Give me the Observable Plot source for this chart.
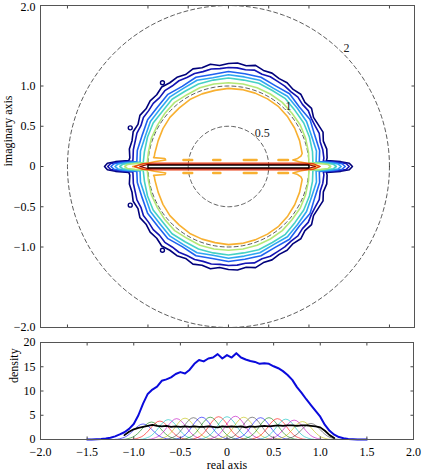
<!DOCTYPE html>
<html><head><meta charset="utf-8">
<script src="https://cdn.jsdelivr.net/npm/d3@7"></script>
<script src="https://cdn.jsdelivr.net/npm/@observablehq/plot@0.6"></script>
<style>
body{margin:0;background:#fff;}
#chart{width:422px;height:476px;position:relative;overflow:hidden;}
#chart svg{display:block;position:absolute;left:0;overflow:visible;}
#chart svg, #chart svg text{font-family:"Liberation Serif","Times New Roman",serif !important;}
</style></head><body><div id="chart"></div>
<script>
// ---------------- DATA ----------------
// top panel ticks
const planeTicks = [-2, -1, -0.5, 0, 0.5, 1, 2];
const planeTickLabels = ["−2.0", "−1.0", "−0.5", "0", "0.5", "1.0", "2.0"];
// reference dashed circles
const circleRadii = [0.5, 1, 2];
const circleLabels = ["0.5", "1", "2"];
const circleLabelX = [0.42, 0.745, 1.466];
const circleLabelY = [0.42, 0.745, 1.466];

// contour levels (low -> high): radius of each level at angles 0..180 deg (symmetric about real axis)
const levelColors = ["#00007a", "#1414b4", "#1f62f0", "#2ea6f2", "#46d2c4", "#b4e878"];
const navyRadii = [1.22,1.23,1.24,1.22,1.25,1.23,1.22,1.26,1.24,1.27,1.25,1.27,1.26,1.28,1.27,1.30,1.27,1.29,1.28,1.26,1.29,1.27,1.29,1.26,1.28,1.27,1.29,1.26,1.27,1.25,1.27,1.24,1.26,1.24,1.25,1.23,1.24];
const navy2Radii = [1.18,1.19,1.19,1.18,1.20,1.19,1.19,1.21,1.20,1.22,1.21,1.22,1.22,1.23,1.22,1.24,1.22,1.23,1.23,1.22,1.23,1.22,1.23,1.22,1.23,1.22,1.23,1.21,1.22,1.21,1.22,1.20,1.21,1.20,1.20,1.19,1.19];
const blueRadii = [1.13,1.15,1.14,1.17,1.15,1.18,1.16,1.18,1.17,1.18,1.16,1.18,1.15,1.17,1.15,1.16,1.14,1.15,1.14];
const skyRadii = [1.09,1.11,1.10,1.12,1.12,1.14,1.12,1.14,1.13,1.14,1.12,1.14,1.12,1.13,1.11,1.12,1.10,1.11,1.10];
const tealRadii = [1.05,1.06,1.07,1.08,1.08,1.10,1.09,1.10,1.09,1.10,1.09,1.09,1.08,1.09,1.07,1.08,1.07,1.06,1.06];
const greenRadii = [1.00,1.01,1.02,1.03,1.03,1.04,1.04,1.04,1.04,1.04,1.04,1.04,1.03,1.04,1.03,1.02,1.02,1.01,1.01];
const spikeTipRight = [1.54, 1.50, 1.45, 1.40, 1.34, 1.27];
const spikeTipLeft = [-1.54, -1.50, -1.46, -1.41, -1.35, -1.29];
const spikeHalfWidth = [0.075, 0.068, 0.062, 0.056, 0.05, 0.045];
const spikeProfileF = [0, 0.12, 0.45, 1];
const spikeProfileH = [0, 0.55, 0.8, 1];

// orange level
const orangeColor = "#f8b030";
const orangeRadii = [0.92,0.93,0.94,0.95,0.96,0.97,0.97,0.97,0.97,0.97,0.96,0.96,0.96,0.95,0.95,0.94,0.93,0.93,0.93];
const orangeRightX = [1.13, 1.00, 0.88, 0.80, 0.86, 0.90];
const orangeRightY = [0, 0.035, 0.058, 0.08, 0.10, 0.13];
const orangeLeftX = [-0.92, -0.93, -0.79, -0.78, -0.92, -1.05, -1.19];
const orangeLeftY = [0.13, 0.11, 0.10, 0.08, 0.058, 0.03, 0];
const orangeIslandX1 = [-0.56, -0.19, 0.19, 0.62];
const orangeIslandX2 = [-0.45, -0.10, 0.35, 0.74];
const orangeIslandY = [0.08, 0.08, 0.08, 0.08];

// real-axis bands (upper halves)
const bandColors = ["#e83a10", "#8c0000", "#000000"];
const redBandX = [1.14, 1.05, 0.95, -0.95, -1.06, -1.17];
const redBandY = [0, 0.035, 0.042, 0.042, 0.035, 0];
const darkRedBandX = [1.08, 0.98, -1.00, -1.10];
const darkRedBandY = [0, 0.026, 0.026, 0];
const blackBandX = [1.0, 1.0, -1.0, -1.0];
const blackBandY = [0, 0.018, 0.018, 0];

// isolated low-level islands
const islandX = [-0.82, -1.22, -1.22, -0.82];
const islandY = [1.04, 0.48, -0.48, -1.04];

// bottom panel
const densityTicksX = [-2, -1.5, -1, -0.5, 0, 0.5, 1, 1.5, 2];
const densityTickLabelsX = ["−2.0", "−1.5", "−1.0", "−0.5", "0", "0.5", "1.0", "1.5", "2.0"];
const densityTicksY = [0, 5, 10, 15, 20];
const realX = [-1.50,-1.45,-1.40,-1.35,-1.30,-1.25,-1.20,-1.15,-1.10,-1.05,-1.00,-0.95,-0.90,-0.85,-0.80,-0.75,-0.70,-0.65,-0.60,-0.55,-0.50,-0.45,-0.40,-0.35,-0.30,-0.25,-0.20,-0.15,-0.10,-0.05,0,0.05,0.10,0.15,0.20,0.25,0.30,0.35,0.40,0.45,0.50,0.55,0.60,0.65,0.70,0.75,0.80,0.85,0.90,0.95,1.00,1.05,1.10,1.15,1.20,1.25,1.30,1.35,1.40,1.45,1.50];
const totalDensity = [0,0,0.05,0.1,0.2,0.35,0.65,1.05,1.5,2.2,3.2,5.0,7.4,9.4,10.3,10.9,12.1,12.4,12.8,13.5,13.9,13.6,14.4,15.6,16.4,16.1,16.7,16.9,17.6,16.7,17.4,16.9,17.8,16.9,16.5,16.2,16.0,15.6,15.7,15.6,15.1,14.7,14.1,13.3,12.3,10.8,9.6,8.3,7.1,5.9,4.7,3.0,1.8,1.0,0.5,0.25,0.1,0.05,0,0,0];
const meanX = [-1.10,-1.05,-1.00,-0.95,-0.90,-0.85,-0.80,-0.75,-0.70,-0.65,-0.60,-0.55,-0.50,-0.45,-0.40,-0.35,-0.30,-0.25,-0.20,-0.15,-0.10,-0.05,0,0.05,0.10,0.15,0.20,0.25,0.30,0.35,0.40,0.45,0.50,0.55,0.60,0.65,0.70,0.75,0.80,0.85,0.90,0.95,1.00,1.05,1.10,1.15];
const meanDensity = [0.9,1.6,2.1,2.4,2.6,2.8,3.0,2.8,2.7,2.8,2.6,2.7,2.6,2.7,2.6,2.7,2.6,2.6,2.7,2.6,2.5,2.7,2.6,2.7,2.6,2.7,2.5,2.7,2.6,2.7,2.8,2.7,2.8,2.9,2.8,2.9,2.9,2.8,2.9,2.9,2.8,2.7,2.5,1.8,0.9,0.3];
const bumpCenters = [-0.90,-0.81,-0.72,-0.63,-0.54,-0.45,-0.36,-0.27,-0.18,-0.09,0,0.09,0.18,0.27,0.36,0.45,0.54,0.63,0.72,0.81,0.90];
const bumpPeaks = [3.2,3.6,3.8,4.1,4.3,4.4,4.5,4.6,4.6,4.7,4.7,4.8,4.6,4.6,4.5,4.5,4.3,4.2,4.0,3.7,3.3];
const bumpOffsets = [-0.3,-0.275,-0.25,-0.225,-0.2,-0.175,-0.15,-0.125,-0.1,-0.075,-0.05,-0.025,0,0.025,0.05,0.075,0.1,0.125,0.15,0.175,0.2,0.225,0.25,0.275,0.3];
const bumpShape = [0.01,0.02,0.05,0.09,0.14,0.22,0.33,0.46,0.61,0.76,0.88,0.97,1,0.97,0.88,0.76,0.61,0.46,0.33,0.22,0.14,0.09,0.05,0.02,0.01];
const bumpColors = ["#0000ff", "#008000", "#ff0000", "#00bfbf", "#bf00bf", "#bfbf00", "#404040"];

// ---------------- BUILD ----------------
const FONT = "Liberation Serif";
function ringHalf(radii, tipR, tipL, h) {
  const n = radii.length - 1, pts = [];
  const xbR = Math.sqrt(radii[0] ** 2 - h * h), xbL = -Math.sqrt(radii[n] ** 2 - h * h);
  for (let k = 0; k < spikeProfileF.length; k++) pts.push([tipR + (xbR - tipR) * spikeProfileF[k], h * spikeProfileH[k]]);
  for (let i = 1; i < n; i++) { const a = Math.PI * i / n; pts.push([radii[i] * Math.cos(a), radii[i] * Math.sin(a)]); }
  for (let k = spikeProfileF.length - 1; k >= 0; k--) pts.push([tipL + (xbL - tipL) * spikeProfileF[k], h * spikeProfileH[k]]);
  return pts;
}
function closeMirror(half) {
  const pts = half.slice();
  for (let i = half.length - 2; i >= 0; i--) pts.push([half[i][0], -half[i][1]]);
  return pts;
}
const contourRows = [];
function addContour(id, color, width, pts) {
  pts.forEach(([x, y]) => contourRows.push({id, color, width, x, y}));
}
[navyRadii, navy2Radii, blueRadii, skyRadii, tealRadii, greenRadii].forEach((radii, i) => {
  addContour("L" + i, levelColors[i], 1.6, closeMirror(ringHalf(radii, spikeTipRight[i], spikeTipLeft[i], spikeHalfWidth[i])));
});
{
  const half = orangeRightX.map((x, i) => [x, orangeRightY[i]]);
  const n = orangeRadii.length - 1;
  for (let i = 1; i < n; i++) { const a = Math.PI * i / n; half.push([orangeRadii[i] * Math.cos(a), orangeRadii[i] * Math.sin(a)]); }
  orangeLeftX.forEach((x, i) => half.push([x, orangeLeftY[i]]));
  addContour("orange", orangeColor, 1.6, closeMirror(half));
}
[[redBandX, redBandY], [darkRedBandX, darkRedBandY], [blackBandX, blackBandY]].forEach(([bx, by], i) => {
  addContour("band" + i, bandColors[i], 1.2, closeMirror(bx.map((x, j) => [x, by[j]])));
});
const islandRows = [];
orangeIslandX1.forEach((x1, i) => {
  islandRows.push({x1, x2: orangeIslandX2[i], y: orangeIslandY[i]});
  islandRows.push({x1, x2: orangeIslandX2[i], y: -orangeIslandY[i]});
});
const circleRows = [];
circleRadii.forEach(r => { for (let a = 0; a <= 360; a += 2) circleRows.push({r, x: r * Math.cos(a * Math.PI / 180), y: r * Math.sin(a * Math.PI / 180)}); });
const circleLabelRows = circleLabels.map((t, i) => ({t, x: circleLabelX[i], y: circleLabelY[i]}));

// inward tick symbols
const tickLen = 3;
const sym = (dx, dy) => ({draw(ctx) { ctx.moveTo(0, 0); ctx.lineTo(dx, dy); }});
function frameTicks(xt, yt) {
  const o = {fill: "none", stroke: "#444", strokeWidth: 1};
  return [
    Plot.dot(xt, {...o, x: d => d, frameAnchor: "bottom", symbol: sym(0, -tickLen)}),
    Plot.dot(xt, {...o, x: d => d, frameAnchor: "top", symbol: sym(0, tickLen)}),
    Plot.dot(yt, {...o, y: d => d, frameAnchor: "left", symbol: sym(tickLen, 0)}),
    Plot.dot(yt, {...o, y: d => d, frameAnchor: "right", symbol: sym(-tickLen, 0)})
  ];
}
const planeLabelFmt = d => planeTickLabels[planeTicks.indexOf(d)];
const planeTicksInner = planeTicks.filter(d => d !== 2);

const topPlot = Plot.plot({
  width: 422, height: 345,
  marginLeft: 40, marginRight: 8, marginTop: 5, marginBottom: 18,
  x: {domain: [-2.335, 2.311], axis: null},
  y: {domain: [-2, 2]},
  style: {fontFamily: FONT, fontSize: "12px", background: "white", color: "#000", overflow: "visible"},
  marks: [
    Plot.line(circleRows, {x: "x", y: "y", z: "r", stroke: "#333", strokeWidth: 0.8, strokeDasharray: "4,3"}),
    Plot.line(contourRows, {x: "x", y: "y", z: "id", stroke: "color", strokeWidth: "width", strokeLinejoin: "round"}),
    Plot.link(islandRows, {x1: "x1", x2: "x2", y1: "y", y2: "y", stroke: orangeColor, strokeWidth: 2.4, strokeLinecap: "round"}),
    Plot.dot(islandX.map((x, i) => ({x, y: islandY[i]})), {x: "x", y: "y", r: 2, stroke: levelColors[0], strokeWidth: 1.4, fill: "none"}),
    Plot.text(circleLabelRows, {x: "x", y: "y", text: "t", fontSize: 12, fontFamily: FONT, fill: "#222"}),
    ...frameTicks(planeTicks, planeTicks),
    Plot.axisY(planeTicksInner, {tickSize: 0, tickPadding: 5, tickFormat: planeLabelFmt, label: null, fontSize: 12, fontFamily: FONT}),
    Plot.axisY([2], {tickSize: 0, tickPadding: 5, tickFormat: planeLabelFmt, label: null, fontSize: 12, fontFamily: FONT, dy: 2}),
    Plot.frame({stroke: "#555", strokeWidth: 1}),
    Plot.text(["imaginary axis"], {frameAnchor: "left", rotate: -90, dx: -32, fontSize: 12, fontFamily: FONT})
  ]
});

const bumpRows = [];
bumpCenters.forEach((c, i) => {
  bumpOffsets.forEach((o, j) => bumpRows.push({id: i, color: bumpColors[i % bumpColors.length], x: c + o, y: bumpPeaks[i] * bumpShape[j]}));
});

const bottomPlot = Plot.plot({
  width: 422, height: 146,
  marginLeft: 40, marginRight: 9, marginTop: 12, marginBottom: 37,
  x: {domain: [-2, 2]},
  y: {domain: [0, 20]},
  style: {fontFamily: FONT, fontSize: "12px", background: "transparent", color: "#000", overflow: "visible"},
  marks: [
    Plot.line(bumpRows, {x: "x", y: "y", z: "id", stroke: "color", strokeWidth: 0.6}),
    Plot.line(meanX.map((x, i) => ({x, y: meanDensity[i]})), {x: "x", y: "y", stroke: "#000", strokeWidth: 1.8}),
    Plot.line(realX.map((x, i) => ({x, y: totalDensity[i]})), {x: "x", y: "y", stroke: "#0a0adc", strokeWidth: 2}),
    ...frameTicks(densityTicksX, densityTicksY),
    Plot.axisX(densityTicksX, {tickSize: 0, tickPadding: 8, tickFormat: d => densityTickLabelsX[densityTicksX.indexOf(d)], label: null, fontSize: 12, fontFamily: FONT}),
    Plot.axisY(densityTicksY, {tickSize: 0, tickPadding: 5, label: null, fontSize: 12, fontFamily: FONT}),
    Plot.frame({stroke: "#555", strokeWidth: 1}),
    Plot.text(["density"], {frameAnchor: "left", rotate: -90, dx: -26, dy: -8, fontSize: 12, fontFamily: FONT}),
    Plot.text(["real axis"], {frameAnchor: "bottom", dy: 29, fontSize: 12, fontFamily: FONT})
  ]
});

const chart = document.getElementById("chart");
topPlot.style.top = "0px";
bottomPlot.style.top = "330px";
chart.appendChild(topPlot);
chart.appendChild(bottomPlot);
</script></body></html>
